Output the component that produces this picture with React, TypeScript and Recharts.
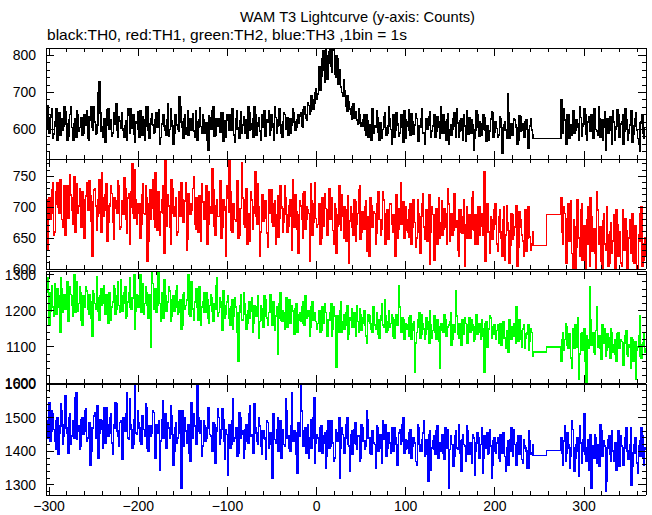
import React from 'react';
import { LineChart, Line, XAxis, YAxis } from 'recharts';

const FONT = '"Liberation Sans", Arial, Helvetica, sans-serif';

// 1 s bins. "Even" arrays hold t = -302, -300 ... 242 and 274 ... 370,
// "Odd" arrays hold t = -301 ... 241 and 275 ... 369. The data gap is drawn as two flat levels.
const mainStart = -302;
const tailStart = 274;
const gapTimes = [243, 258, 258, 273];

const th0Even = [
  665, 590, 640, 575, 620, 655, 600, 585, 630, 610, 648, 570, 625, 660, 598, 615, 580, 640, 605, 632,
  590, 618, 650, 572, 625, 605, 660, 588, 612, 728, 595, 578, 628, 612, 655, 600, 582, 645, 620, 598,
  635, 602, 602, 580, 622, 655, 590, 610, 640, 565, 618, 600, 650, 585, 625, 608, 660, 575, 630, 612,
  592, 645, 620, 560, 615, 640, 598, 625, 582, 655, 610, 590, 635, 600, 688, 620, 575, 640, 605, 585,
  630, 612, 595, 650, 570, 625, 608, 640, 590, 618, 545, 632, 600, 660, 585, 615, 628, 592, 645, 610,
  580, 625, 640, 598, 612, 565, 650, 605, 622, 590, 635, 612, 575, 645, 600, 628, 660, 585, 618, 595,
  640, 605, 582, 625, 650, 598, 615, 570, 632, 610, 655, 590, 620, 640, 600, 585, 628, 612, 645, 598, 625,
  618, 645, 605, 660, 630, 672, 640, 690, 655, 700, 682,
  740, 705, 790, 760, 820, 735, 810, 770, 825, 748, 800, 722, 760, 700, 735,
  690, 650, 675, 640, 662, 630, 648, 615, 640, 608,
  625, 598, 640, 580, 612, 655, 590, 605, 632, 570, 618, 600, 645, 585, 610, 628, 560, 640, 598, 615,
  582, 630, 605, 650, 575, 620, 598, 642, 588, 612, 630, 568, 605, 655, 592, 618, 600, 635, 578, 610,
  640, 595, 620, 575, 608, 640, 590, 625, 560, 612, 600, 645, 580, 618, 595, 630, 572, 610, 650, 588,
  605, 625, 545, 598, 640, 582, 615, 600, 632, 568, 610, 595, 648, 578, 620, 602, 585, 630, 535, 612,
  598, 695, 575, 615, 590, 625, 605, 572, 635, 598, 580, 620, 600, 565, 628, 585,
];
const th0Odd = [
  600, 632, 655, 588, 610, 572, 645, 625, 598, 660, 615, 582, 640, 605, 570, 628, 650, 595, 618, 585,
  640, 612, 575, 635, 660, 598, 620, 590, 700, 645, 608, 630, 565, 652, 600, 625, 590, 615, 668, 580,
  622, 645, 598, 610, 572, 638, 655, 602, 588, 620, 648, 580, 612, 635, 570, 660, 598, 615, 642, 590,
  625, 605, 652, 578, 630, 610, 585, 668, 600, 622, 560, 640, 612, 595, 662, 605, 630, 588, 650, 615,
  598, 642, 578, 620, 605, 658, 590, 625, 612, 570, 638, 600, 650, 582, 628, 610, 595, 645, 568, 622,
  640, 598, 612, 655, 585, 630, 600, 575, 648, 612, 590, 625, 662, 598, 615, 580, 640, 608, 632, 572,
  615, 650, 598, 620, 585, 640, 605, 660, 590, 625, 612, 578, 645, 600, 632, 615, 590, 655, 620, 605, 640,
  635, 610, 652, 640, 625, 665, 650, 680, 672, 710, 695,
  770, 745, 812, 728, 800, 780, 830, 755, 815, 740, 790, 735, 715, 690,
  705, 662, 690, 655, 628, 670, 640, 625, 655, 618,
  608, 640, 585, 622, 598, 570, 632, 610, 650, 592, 618, 575, 635, 605, 590, 660, 600, 622, 578, 645,
  612, 590, 640, 565, 625, 608, 652, 585, 620, 598, 642, 575, 610, 630, 590, 560, 628, 612, 648, 595,
  615, 580, 635, 605, 662, 590, 620, 572, 642, 600, 585, 630, 610, 655, 578, 622, 598, 640, 568, 615,
  632, 590, 612, 575, 650, 605, 620, 585, 640, 598, 610, 570, 628, 645, 592, 615, 580, 635, 605, 598,
  620, 575, 645, 600, 585, 630, 612, 560, 638, 595, 615, 580, 625, 550, 610, 598,
];
const th0Gap = [575, 575, 575, 575];
const th0TailEven = [
  680, 590, 625, 560, 640, 605, 585, 650, 598, 615, 570, 632, 610, 655, 588, 620, 600, 640, 575, 612,
  595, 660, 580, 625, 605, 545, 630, 598, 615, 650, 570, 608, 640, 585, 620, 560, 655, 600, 590, 628,
  565, 610, 645, 575, 540, 620, 590, 605, 580,
];
const th0TailOdd = [
  620, 655, 598, 640, 575, 612, 650, 590, 625, 605, 660, 582, 615, 640, 570, 635, 595, 622, 655, 600,
  585, 628, 612, 570, 648, 605, 590, 635, 560, 620, 600, 652, 580, 615, 640, 595, 625, 570, 612, 650,
  588, 630, 598, 560, 618, 640, 575, 605,
];

const th1Even = [
  630, 715, 690, 740, 660, 725, 700, 745, 680, 710, 655, 735, 698, 720, 672, 750, 705, 690, 730, 668,
  712, 650, 740, 695, 718, 620, 728, 702, 685, 745, 660, 715, 695, 738, 675, 705, 722, 648, 710, 690,
  735, 668, 702, 748, 680, 715, 640, 725, 690, 760, 672, 705,
  650, 720, 690, 735, 612, 705, 680, 745, 668, 700, 725, 655, 712, 690, 775, 670, 702, 640, 730, 685,
  715, 660, 698, 740, 675, 710, 630, 722, 688, 705, 750, 665, 695, 718, 645, 708, 680, 735, 672, 700,
  690, 728, 655, 712, 685, 742, 668, 700, 620, 715,
  778, 662, 705, 680, 730, 650, 698, 772, 672, 712, 640, 690, 725, 665, 700, 685, 738, 620, 695, 678,
  710, 658, 728, 690, 675, 705, 640, 718, 682, 700, 660, 735, 688, 670, 712, 630, 695, 720, 665, 688,
  702, 650, 725, 680, 695, 612, 710, 675, 740, 668,
  690, 640, 715, 670, 698, 655, 730, 680, 662, 705, 625, 688, 672, 720, 650, 695, 678, 610, 700, 668,
  712, 645, 690, 735, 660, 685, 700, 628, 675, 715, 668, 692, 640, 705, 680, 655, 725, 670, 690, 648,
  705, 672, 688, 620, 698, 665, 740, 680, 650, 700,
  660, 695, 640, 712, 675, 650, 690, 625, 705, 668, 682, 645, 720, 660, 688, 615, 698, 672, 650, 710,
  665, 690, 640, 705, 678, 655, 722, 668, 630, 695, 660, 685, 605, 700, 672, 650, 715, 662, 688, 640,
  700, 670, 655, 758, 660, 690, 625, 680, 665, 705,
  640, 685, 660, 620, 700, 655, 675, 610, 690, 648, 668, 702, 635, 680, 655, 620, 695, 650, 672, 630, 660,
];
const th1Odd = [
  712, 680, 728, 655, 705, 740, 690, 722, 668, 735, 700, 682, 752, 695, 715, 660, 738, 702, 685, 725,
  650, 718, 695, 742, 678, 708, 730, 662, 712, 690, 755, 685, 720, 645, 702, 735, 675, 715, 698, 742,
  665, 710, 688, 730, 658, 722, 700, 770, 682, 712, 690,
  705, 672, 738, 688, 715, 645, 728, 698, 680, 755, 662, 710, 692, 735, 625, 702, 720, 668, 745, 690,
  700, 655, 725, 685, 712, 678, 740, 648, 705, 695, 730, 672, 715, 660, 698, 738, 682, 708, 640, 725,
  690, 762, 670, 702, 685, 720, 650, 712, 695, 735,
  692, 725, 660, 705, 678, 742, 655, 698, 715, 668, 730, 685, 645, 712, 690, 758, 672, 700, 660, 720,
  682, 705, 635, 695, 728, 670, 710, 688, 652, 735, 698, 675, 715, 660, 702, 685, 745, 668, 692, 625,
  710, 680, 722, 665, 700, 690, 738, 655, 705, 682,
  672, 705, 650, 688, 722, 660, 695, 680, 715, 640, 698, 670, 735, 662, 685, 700, 645, 718, 678, 690,
  655, 708, 672, 728, 648, 692, 665, 710, 685, 620, 702, 675, 690, 658, 725, 680, 665, 712, 640, 695,
  682, 705, 660, 688, 720, 650, 698, 672, 708, 662,
  680, 652, 705, 668, 690, 635, 712, 660, 685, 722, 648, 695, 670, 608, 700, 665, 688, 640, 715, 675,
  655, 698, 668, 730, 645, 690, 662, 705, 678, 620, 695, 658, 712, 672, 650, 688, 665, 725, 640, 682,
  700, 655, 690, 672, 612, 705, 660, 685, 648, 695,
  672, 628, 695, 650, 680, 615, 702, 662, 638, 688, 655, 675, 605, 692, 668, 645, 685, 628, 700, 652, 640,
];
const th1Gap = [638, 638, 688, 688];
const th1TailEven = [
  715, 640, 690, 610, 705, 660, 625, 680, 595, 712, 650, 695, 615, 670, 640, 700, 605, 685, 655, 625,
  725, 640, 668, 592, 690, 630, 655, 610, 675, 645, 596, 695, 620, 660, 605, 640, 682, 590, 650, 625,
  690, 610, 665, 594, 645, 700, 615, 650, 630,
];
const th1TailOdd = [
  660, 700, 625, 682, 645, 710, 598, 668, 635, 690, 620, 705, 655, 600, 680, 640, 715, 628, 665, 595,
  695, 650, 612, 678, 640, 700, 605, 660, 625, 688, 590, 672, 645, 610, 695, 630, 662, 598, 680, 640,
  612, 670, 598, 655, 690, 605, 640, 620,
];

const th2Even = [
  1290, 1160, 1250, 1210, 1275, 1190, 1240, 1140, 1260, 1225, 1205, 1280, 1215, 1245, 1185, 1300, 1230, 1200, 1265, 1175,
  1240, 1210, 1255, 1190, 1225, 1130, 1248, 1205, 1235, 1175, 1260, 1220, 1195, 1245, 1165, 1230, 1210, 1270, 1190, 1240,
  1215, 1285, 1200, 1250, 1180, 1225, 1290, 1205, 1235, 1150, 1245, 1210,
  1300, 1230, 1190, 1265, 1215, 1245, 1100, 1275, 1225, 1195, 1305, 1220, 1250, 1180, 1240, 1210, 1265, 1170, 1230, 1200,
  1255, 1190, 1225, 1150, 1245, 1205, 1230, 1300, 1185, 1220, 1175, 1240, 1210, 1265, 1160, 1225, 1195, 1250, 1180, 1215,
  1235, 1170, 1205, 1290, 1195, 1225, 1145, 1215, 1190, 1240,
  1180, 1210, 1150, 1235, 1195, 1060, 1215, 1175, 1250, 1190, 1165, 1225, 1200, 1140, 1215, 1185, 1240, 1170, 1205, 1155,
  1230, 1180, 1195, 1245, 1160, 1210, 1185, 1080, 1220, 1175, 1200, 1150, 1235, 1190, 1165, 1215, 1180, 1205, 1140, 1190,
  1170, 1225, 1160, 1200, 1185, 1130, 1210, 1175, 1195, 1150,
  1180, 1140, 1210, 1165, 1195, 1130, 1175, 1220, 1150, 1185, 1045, 1170, 1200, 1140, 1190, 1160, 1215, 1135, 1175, 1155,
  1195, 1130, 1170, 1205, 1145, 1180, 1160, 1110, 1190, 1165, 1140, 1210, 1150, 1175, 1125, 1185, 1160, 1230, 1140, 1170,
  1155, 1190, 1130, 1175, 1160, 1270, 1145, 1180, 1120, 1165,
  1150, 1180, 1120, 1165, 1030, 1140, 1175, 1125, 1190, 1150, 1135, 1170, 1110, 1160, 1145, 1185, 1120, 1155, 1040, 1165,
  1140, 1175, 1130, 1160, 1195, 1120, 1150, 1255, 1135, 1165, 1105, 1150, 1180, 1125, 1160, 1140, 1175, 1115, 1155, 1135,
  1165, 1120, 1150, 1030, 1170, 1140, 1185, 1125, 1155, 1135,
  1145, 1110, 1165, 1125, 1150, 1095, 1140, 1175, 1120, 1155, 1130, 1210, 1115, 1145, 1100, 1160, 1125, 1140, 1090, 1150, 1075,
];
const th2Odd = [
  1250, 1200, 1270, 1185, 1235, 1260, 1210, 1290, 1195, 1245, 1225, 1170, 1265, 1215, 1240, 1195, 1280, 1220, 1250, 1160,
  1230, 1265, 1205, 1245, 1180, 1255, 1220, 1295, 1200, 1240, 1215, 1270, 1190, 1235, 1250, 1175, 1225, 1260, 1205, 1280,
  1195, 1240, 1220, 1265, 1185, 1250, 1210, 1235, 1300, 1200, 1230,
  1240, 1195, 1275, 1220, 1250, 1180, 1230, 1310, 1205, 1260, 1215, 1245, 1170, 1235, 1285, 1200, 1225, 1255, 1185, 1240,
  1210, 1270, 1195, 1230, 1160, 1250, 1215, 1240, 1190, 1280, 1205, 1225, 1260, 1175, 1235, 1210, 1250, 1195, 1230, 1165,
  1245, 1200, 1220, 1270, 1185, 1235, 1210, 1255, 1180, 1225,
  1205, 1160, 1230, 1185, 1210, 1140, 1195, 1245, 1175, 1220, 1150, 1200, 1180, 1235, 1165, 1210, 1190, 1125, 1215, 1175,
  1240, 1185, 1160, 1205, 1195, 1225, 1145, 1210, 1180, 1250, 1170, 1195, 1215, 1155, 1230, 1185, 1200, 1135, 1220, 1175,
  1195, 1210, 1165, 1240, 1180, 1200, 1155, 1225, 1190, 1170,
  1165, 1200, 1145, 1185, 1220, 1150, 1175, 1195, 1130, 1210, 1160, 1185, 1140, 1225, 1170, 1150, 1195, 1120, 1180, 1205,
  1155, 1175, 1215, 1140, 1190, 1165, 1200, 1130, 1170, 1185, 1150, 1210, 1160, 1195, 1135, 1175, 1220, 1155, 1185, 1145,
  1200, 1165, 1180, 1125, 1190, 1160, 1210, 1140, 1175, 1150,
  1160, 1130, 1185, 1145, 1170, 1110, 1155, 1195, 1135, 1165, 1120, 1180, 1150, 1200, 1125, 1160, 1140, 1175, 1115, 1165,
  1145, 1190, 1130, 1155, 1170, 1105, 1160, 1140, 1185, 1125, 1150, 1175, 1135, 1165, 1110, 1180, 1145, 1160, 1120, 1190,
  1140, 1155, 1175, 1130, 1165, 1100, 1150, 1180, 1135, 1160,
  1120, 1160, 1135, 1105, 1170, 1125, 1145, 1085, 1155, 1130, 1165, 1110, 1140, 1175, 1120, 1150, 1095, 1135, 1160, 1115, 1140,
];
const th2Gap = [1085, 1085, 1100, 1100];
const th2TailEven = [
  1060, 1140, 1120, 1155, 1095, 1130, 1040, 1115, 1160, 1100, 1010, 1135, 1090, 1150, 1000, 1120, 1265, 1105, 1140, 1080,
  1210, 1125, 1095, 1160, 1110, 1075, 1135, 1100, 1150, 1085, 1120, 1060, 1140, 1095, 1115, 1050, 1130, 1080, 1105, 1040,
  1120, 1090, 1010, 1100, 1185, 1070, 1110, 1085, 1120,
];
const th2TailOdd = [
  1120, 1090, 1165, 1105, 1135, 1070, 1150, 1095, 1125, 1180, 1080, 1140, 1110, 1060, 1130, 1095, 1175, 1120, 1085, 1145,
  1100, 1130, 1065, 1115, 1150, 1090, 1125, 1070, 1140, 1105, 1080, 1135, 1095, 1120, 1065, 1110, 1145, 1075, 1100, 1125,
  1060, 1115, 1090, 1130, 1075, 1105, 1140, 1095,
];

const th3Even = [
  1440, 1545, 1460, 1510, 1430, 1490, 1390, 1475, 1520, 1445, 1565, 1455, 1500, 1420, 1485, 1440, 1575, 1460, 1405, 1495,
  1450, 1520, 1430, 1480, 1360, 1470, 1505, 1440, 1535, 1455, 1490, 1410, 1470, 1530, 1445, 1500, 1425, 1480, 1545, 1460,
  1415, 1490, 1375, 1470, 1510, 1440, 1555, 1465, 1420, 1595, 1450, 1485,
  1430, 1505, 1465, 1540, 1410, 1475, 1445, 1520, 1390, 1480, 1455, 1345, 1495, 1440, 1510, 1425, 1470, 1535, 1450, 1400,
  1485, 1440, 1520, 1290, 1465, 1500, 1425, 1480, 1370, 1455, 1510, 1435, 1595, 1460, 1490, 1415, 1475, 1440, 1530, 1450,
  1410, 1485, 1365, 1470, 1500, 1440, 1525, 1430, 1465, 1330,
  1480, 1420, 1555, 1440, 1470, 1395, 1500, 1450, 1380, 1465, 1430, 1510, 1445, 1400, 1540, 1455, 1420, 1475, 1390, 1460,
  1435, 1490, 1410, 1455, 1320, 1470, 1425, 1500, 1440, 1380, 1465, 1415, 1520, 1445, 1400, 1575, 1430, 1455, 1335, 1470,
  1595, 1420, 1460, 1395, 1480, 1440, 1410, 1500, 1365, 1450,
  1420, 1470, 1395, 1445, 1350, 1460, 1410, 1490, 1425, 1380, 1455, 1435, 1320, 1470, 1405, 1440, 1500, 1415, 1450, 1390,
  1465, 1420, 1445, 1370, 1480, 1430, 1405, 1520, 1440, 1395, 1460, 1425, 1350, 1470, 1435, 1410, 1490, 1445, 1385, 1455,
  1425, 1470, 1400, 1440, 1360, 1455, 1420, 1480, 1395, 1435,
  1410, 1455, 1380, 1440, 1425, 1360, 1470, 1400, 1435, 1490, 1415, 1390, 1450, 1345, 1430, 1405, 1460, 1380, 1425, 1440,
  1395, 1470, 1410, 1290, 1445, 1420, 1385, 1460, 1405, 1430, 1340, 1450, 1415, 1475, 1390, 1425, 1365, 1440, 1400, 1455,
  1380, 1420, 1335, 1445, 1410, 1390, 1465, 1320, 1430, 1400,
  1425, 1380, 1450, 1395, 1415, 1340, 1430, 1400, 1470, 1385, 1420, 1360, 1445, 1405, 1375, 1435, 1410, 1350, 1460, 1390, 1420,
];
const th3Odd = [
  1490, 1430, 1520, 1465, 1405, 1500, 1455, 1540, 1420, 1480, 1470, 1395, 1510, 1445, 1490, 1560, 1435, 1475, 1415, 1500,
  1460, 1525, 1440, 1485, 1400, 1470, 1515, 1450, 1380, 1495, 1465, 1530, 1425, 1480, 1455, 1510, 1390, 1470, 1540, 1445,
  1485, 1420, 1500, 1460, 1575, 1435, 1480, 1410, 1495, 1455, 1520,
  1470, 1420, 1500, 1445, 1530, 1400, 1475, 1455, 1515, 1380, 1465, 1490, 1430, 1550, 1450, 1410, 1485, 1440, 1505, 1360,
  1470, 1425, 1495, 1455, 1520, 1415, 1460, 1480, 1395, 1545, 1440, 1475, 1420, 1500, 1455, 1385, 1490, 1430, 1470, 1515,
  1445, 1400, 1480, 1460, 1525, 1420, 1465, 1495, 1375, 1450,
  1455, 1410, 1490, 1430, 1470, 1385, 1515, 1440, 1460, 1405, 1480, 1425, 1535, 1450, 1395, 1470, 1430, 1500, 1415, 1460,
  1440, 1375, 1485, 1445, 1420, 1510, 1435, 1465, 1400, 1490, 1450, 1420, 1555, 1440, 1410, 1475, 1430, 1460, 1390, 1485,
  1445, 1520, 1415, 1470, 1435, 1380, 1495, 1440, 1560, 1425,
  1440, 1400, 1475, 1425, 1455, 1385, 1490, 1415, 1445, 1370, 1465, 1430, 1500, 1410, 1450, 1395, 1480, 1420, 1340, 1460,
  1425, 1485, 1405, 1445, 1380, 1470, 1430, 1415, 1495, 1440, 1390, 1460, 1420, 1475, 1400, 1450, 1365, 1435, 1480, 1410,
  1455, 1395, 1440, 1470, 1420, 1385, 1465, 1430, 1500, 1405,
  1430, 1395, 1465, 1415, 1440, 1370, 1480, 1420, 1400, 1455, 1385, 1435, 1310, 1460, 1410, 1445, 1390, 1475, 1425, 1400,
  1450, 1375, 1430, 1465, 1405, 1420, 1355, 1445, 1410, 1480, 1395, 1435, 1420, 1370, 1460, 1415, 1390, 1450, 1330, 1425,
  1440, 1400, 1470, 1380, 1425, 1455, 1395, 1415, 1360, 1440,
  1395, 1440, 1370, 1420, 1455, 1385, 1410, 1360, 1435, 1400, 1465, 1375, 1425, 1390, 1445, 1365, 1415, 1400, 1350, 1430, 1395,
];
const th3Gap = [1388, 1388, 1402, 1402];
const th3TailEven = [
  1440, 1360, 1475, 1395, 1420, 1350, 1490, 1410, 1380, 1440, 1325, 1425, 1400, 1510, 1370, 1435, 1395, 1290, 1415, 1450,
  1365, 1405, 1480, 1385, 1430, 1280, 1410, 1445, 1370, 1400, 1425, 1345, 1460, 1390, 1415, 1360, 1440, 1400, 1375, 1470,
  1355, 1420, 1395, 1335, 1430, 1470, 1380, 1410, 1395,
];
const th3TailOdd = [
  1395, 1430, 1370, 1455, 1410, 1385, 1465, 1340, 1420, 1400, 1475, 1365, 1435, 1390, 1410, 1345, 1450, 1405, 1380, 1440,
  1420, 1355, 1460, 1395, 1415, 1310, 1435, 1390, 1460, 1370, 1405, 1425, 1355, 1445, 1385, 1410, 1470, 1375, 1420, 1300,
  1395, 1440, 1365, 1415, 1385, 1445, 1360, 1405,
];

const xTicks = [
  -300, -280, -260, -240, -220, -200, -180, -160, -140, -120, -100, -80, -60, -40, -20,
  0, 20, 40, 60, 80, 100, 120, 140, 160, 180, 200, 220, 240, 260, 280, 300, 320, 340, 360,
];
const xMajors = [-300, -200, -100, 0, 100, 200, 300];

const th0Ticks = [520, 540, 560, 580, 600, 620, 640, 660, 680, 700, 720, 740, 760, 780, 800, 820];
const th0Majors = [600, 700, 800];
const th1Ticks = [600, 610, 620, 630, 640, 650, 660, 670, 680, 690, 700, 710, 720, 730, 740, 750, 760, 770];
const th1Majors = [600, 650, 700, 750];
const th2Ticks = [1000, 1020, 1040, 1060, 1080, 1100, 1120, 1140, 1160, 1180, 1200, 1220, 1240, 1260, 1280, 1300];
const th2Majors = [1000, 1100, 1200, 1300];
const th3Ticks = [1280, 1300, 1320, 1340, 1360, 1380, 1400, 1420, 1440, 1460, 1480, 1500, 1520, 1540, 1560, 1580, 1600];
const th3Majors = [1300, 1400, 1500, 1600];

type Row = { t: number; th0: number; th1: number; th2: number; th3: number };

const rows: Row[] = [];
th0Even.forEach((v, i) => {
  rows.push({ t: mainStart + 2 * i, th0: v, th1: th1Even[i], th2: th2Even[i], th3: th3Even[i] });
  if (i < th0Odd.length) {
    rows.push({ t: mainStart + 2 * i + 1, th0: th0Odd[i], th1: th1Odd[i], th2: th2Odd[i], th3: th3Odd[i] });
  }
});
gapTimes.forEach((t, i) => {
  rows.push({ t, th0: th0Gap[i], th1: th1Gap[i], th2: th2Gap[i], th3: th3Gap[i] });
});
th0TailEven.forEach((v, i) => {
  rows.push({ t: tailStart + 2 * i, th0: v, th1: th1TailEven[i], th2: th2TailEven[i], th3: th3TailEven[i] });
  if (i < th0TailOdd.length) {
    rows.push({ t: tailStart + 2 * i + 1, th0: th0TailOdd[i], th1: th1TailOdd[i], th2: th2TailOdd[i], th3: th3TailOdd[i] });
  }
});

const X_DOMAIN: [number, number] = [-303.5, 369.5];
const PAD = 20;

const fmt = (v: number) => (v < 0 ? `\u2212${-v}` : `${v}`);

const LeftTick = (props: any) => {
  const { x, y, payload, majors } = props;
  const major = majors.includes(payload.value);
  return (
    <g>
      <line x1={x} x2={x + (major ? 8 : 4)} y1={y} y2={y} stroke="#000" />
      {major && (
        <text x={x - 10} y={y + 5} textAnchor="end" fontSize={14} fontFamily={FONT} fill="#000">
          {payload.value}
        </text>
      )}
    </g>
  );
};

const RightTick = (props: any) => {
  const { x, y, payload, majors } = props;
  const major = majors.includes(payload.value);
  return <line x1={x} x2={x - (major ? 8 : 4)} y1={y} y2={y} stroke="#000" />;
};

const BottomTick = (props: any) => {
  const { x, y, payload, showLabel } = props;
  const major = xMajors.includes(payload.value);
  return (
    <g>
      <line x1={x} x2={x} y1={y} y2={y - (major ? 8 : 4)} stroke="#000" />
      {showLabel && major && (
        <text x={x} y={y + 16} textAnchor="middle" fontSize={14} fontFamily={FONT} fill="#000">
          {fmt(payload.value)}
        </text>
      )}
    </g>
  );
};

const TopTick = (props: any) => {
  const { x, y, payload } = props;
  const major = xMajors.includes(payload.value);
  return <line x1={x} x2={x} y1={y} y2={y + (major ? 8 : 4)} stroke="#000" />;
};

type PanelProps = {
  dataKey: string;
  color: string;
  plotTop: number;
  plotBottom: number;
  domain: [number, number];
  ticks: number[];
  majors: number[];
  showX?: boolean;
};

const Panel = ({ dataKey, color, plotTop, plotBottom, domain, ticks, majors, showX }: PanelProps) => (
  <div style={{ position: 'absolute', left: 0, top: plotTop - PAD }}>
    <LineChart
      width={652}
      height={plotBottom - plotTop + PAD * 2}
      data={rows}
      margin={{ top: 0, right: 0, bottom: 0, left: 0 }}
    >
      <XAxis
        xAxisId="b"
        type="number"
        dataKey="t"
        domain={X_DOMAIN}
        allowDataOverflow
        ticks={xTicks}
        interval={0}
        height={PAD}
        tickSize={0}
        tickMargin={0}
        stroke="#000"
        tick={<BottomTick showLabel={showX} />}
      />
      <XAxis
        xAxisId="t"
        orientation="top"
        type="number"
        dataKey="t"
        domain={X_DOMAIN}
        allowDataOverflow
        ticks={xTicks}
        interval={0}
        height={PAD}
        tickSize={0}
        tickMargin={0}
        stroke="#000"
        tick={<TopTick />}
      />
      <YAxis
        yAxisId="l"
        type="number"
        domain={domain}
        allowDataOverflow
        ticks={ticks}
        interval={0}
        width={46}
        tickSize={0}
        tickMargin={0}
        stroke="#000"
        tick={<LeftTick majors={majors} />}
      />
      <YAxis
        yAxisId="r"
        orientation="right"
        type="number"
        domain={domain}
        allowDataOverflow
        ticks={ticks}
        interval={0}
        width={6}
        tickSize={0}
        tickMargin={0}
        stroke="#000"
        tick={<RightTick majors={majors} />}
      />
      <Line
        xAxisId="b"
        yAxisId="l"
        type="stepAfter"
        dataKey={dataKey}
        stroke={color}
        strokeWidth={1.6}
        dot={false}
        activeDot={false}
        isAnimationActive={false}
      />
    </LineChart>
  </div>
);

export default function App() {
  return (
    <div style={{ position: 'absolute', left: 0, top: 0, width: 652, height: 515, background: '#fff' }}>
      <style>{`.recharts-surface line, .recharts-surface path { shape-rendering: crispEdges; }`}</style>
      <svg width={652} height={46} style={{ position: 'absolute', left: 0, top: 0 }}>
        <text x={240} y={22} textLength={235} lengthAdjust="spacingAndGlyphs" fontSize={14.5} fontFamily={FONT} fill="#000">
          WAM T3 Lightcurve (y-axis: Counts)
        </text>
        <text x={47} y={40} textLength={360} lengthAdjust="spacingAndGlyphs" fontSize={14.5} fontFamily={FONT} fill="#000">
          black:TH0, red:TH1, green:TH2, blue:TH3 ,1bin = 1s
        </text>
      </svg>
      <Panel dataKey="th0" color="#000000" plotTop={48} plotBottom={159} domain={[520, 820]} ticks={th0Ticks} majors={th0Majors} />
      <Panel dataKey="th1" color="#ff0000" plotTop={159} plotBottom={269} domain={[600, 778]} ticks={th1Ticks} majors={th1Majors} />
      <Panel dataKey="th2" color="#00ff00" plotTop={271} plotBottom={383} domain={[1000, 1310]} ticks={th2Ticks} majors={th2Majors} />
      <Panel dataKey="th3" color="#0000ff" plotTop={384} plotBottom={495} domain={[1270, 1600]} ticks={th3Ticks} majors={th3Majors} showX />
    </div>
  );
}
